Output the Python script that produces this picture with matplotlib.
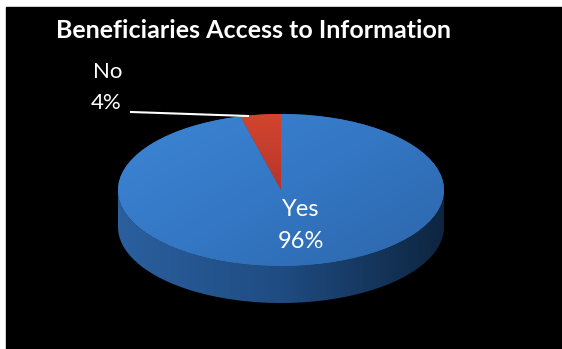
import numpy as np
import matplotlib.pyplot as plt
from matplotlib.patches import Polygon, Rectangle
from matplotlib.colors import LinearSegmentedColormap

# share of beneficiaries with access to information
labels = ['Yes', 'No']
shares = [96, 4]
colors = ['#3579c6', '#c83a2e']

W, H = 562, 349
fig = plt.figure(figsize=(W / 100, H / 100), dpi=100, facecolor='white')
ax = fig.add_axes([0, 0, 1, 1])
ax.set_xlim(0, W)
ax.set_ylim(H, 0)
ax.axis('off')

ax.add_patch(Rectangle((6, 7), W + 10, H + 10, color='black', zorder=0))

# pie geometry in pixel space
cx, cy, a, b, depth = 281, 190, 163, 76, 37


def rim(theta, dy=0):
    t = np.radians(theta)
    return cx + a * np.cos(t), cy - b * np.sin(t) + dy


# side wall, front half, shaded darker to the right
th = np.linspace(180, 360, 200)
xs, ys = rim(th)
side_pts = list(zip(xs, ys)) + list(zip(xs[::-1], ys[::-1] + depth))
side = Polygon(side_pts, closed=True, facecolor='none', edgecolor='none')
ax.add_patch(side)
side_cmap = LinearSegmentedColormap.from_list('side', ['#2b5f9e', '#1f4c82', '#0d2540'])
sx = np.linspace(0, 1, 300).reshape(1, -1)
simg = ax.imshow(sx, cmap=side_cmap, extent=(cx - a, cx + a, cy + b + depth, cy - 2),
                 zorder=2, aspect='auto')
simg.set_clip_path(side)

# top face slices, starting at twelve o'clock
start = 90.0
wedges = []
for lab, val, col in zip(labels[::-1], shares[::-1], colors[::-1]):
    span = 360.0 * val / sum(shares)
    t = np.linspace(start, start + span, 80)
    xs, ys = rim(t)
    pts = [(cx, cy)] + list(zip(xs, ys))
    poly = Polygon(pts, closed=True, facecolor=col, edgecolor='none', zorder=3)
    ax.add_patch(poly)
    wedges.append((lab, poly))
    start += span

# soft highlight on the blue top face
grad = np.linspace(0, 1, 200)
gx, gy = np.meshgrid(grad, grad)
shade = 0.55 * gx + 0.45 * gy
top_cmap = LinearSegmentedColormap.from_list('top', ['#3c85d4', '#3477c4', '#2c66ab'])
img = ax.imshow(shade, cmap=top_cmap, extent=(cx - a, cx + a, cy + b, cy - b),
                zorder=3, aspect='auto')
img.set_clip_path(wedges[1][1])

# red slice gets a little darker toward the centre
red_grad = np.linspace(0, 1, 100).reshape(-1, 1)
red_cmap = LinearSegmentedColormap.from_list('red', ['#d2452f', '#b8352a'])
rimg = ax.imshow(red_grad, cmap=red_cmap, extent=(cx - 60, cx, cy, cy - b),
                 zorder=4, aspect='auto')
rimg.set_clip_path(wedges[0][1])

ax.text(254, 30, 'Beneficiaries Access to Information', color='white',
        fontsize=18, fontweight='bold', family='Lato', ha='center', va='center')

ax.text(93, 72, 'No', color='white', fontsize=16, family='Lato', ha='left', va='center')
ax.text(91, 103, f'{shares[1]}%', color='white', fontsize=16, family='Lato',
        ha='left', va='center')
ax.plot([131, 248], [112, 116], color='white', lw=1.5, zorder=5)

ax.text(301, 210, 'Yes', color='white', fontsize=17, family='Lato', ha='center', va='center')
ax.text(301, 241, f'{shares[0]}%', color='white', fontsize=17, family='Lato',
        ha='center', va='center')

fig.savefig('out.png', dpi=100, facecolor='white')
